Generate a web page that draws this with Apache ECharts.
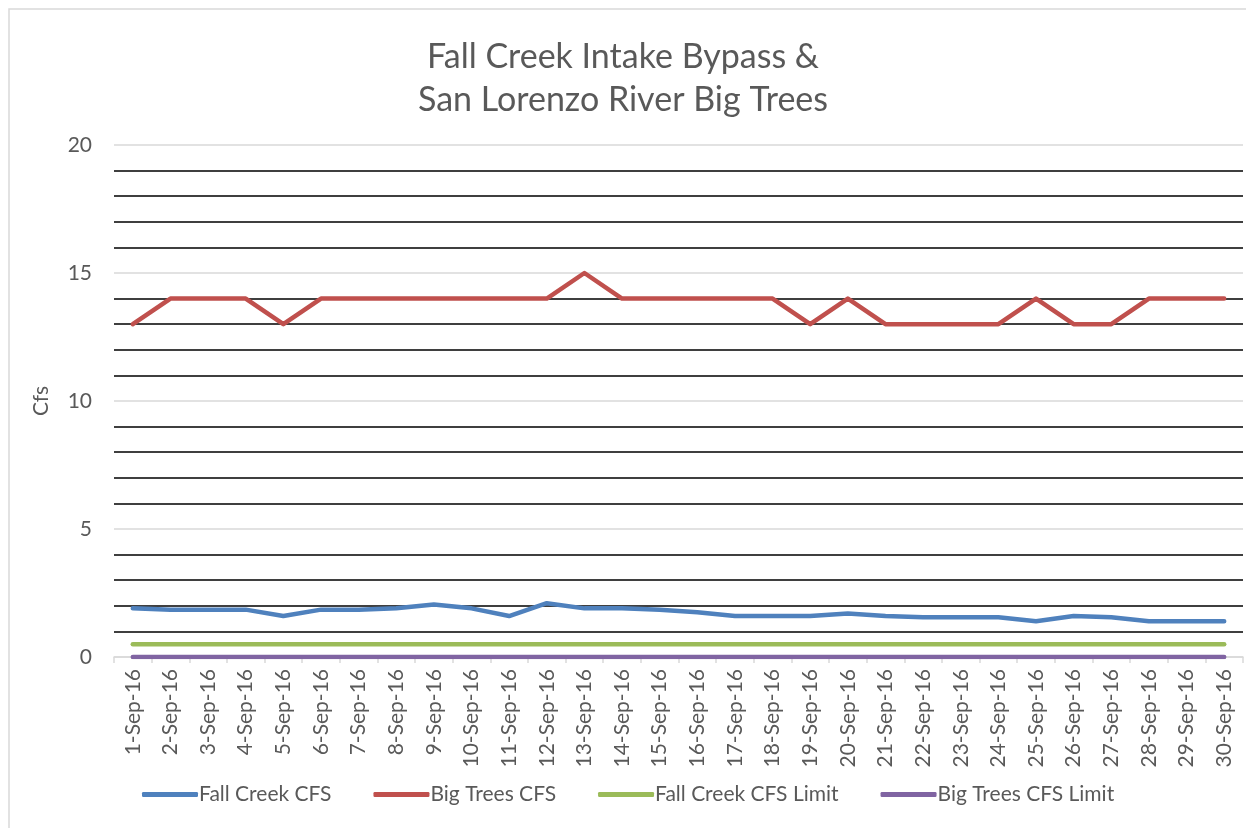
<!DOCTYPE html>
<html>
<head>
<meta charset="utf-8">
<title>Fall Creek Intake Bypass</title>
<script src="https://cdn.jsdelivr.net/npm/echarts@6/dist/echarts.min.js"></script>
<style>
  html, body { margin: 0; padding: 0; background: #fff; }
  #main { width: 1246px; height: 828px; }
</style>
</head>
<body>
<div id="main"></div>
<script>
var days = [];
for (var d = 1; d <= 30; d++) days.push(d + '-Sep-16');

var fallCreek = [1.9, 1.85, 1.85, 1.85, 1.6, 1.85, 1.85, 1.9, 2.05, 1.9,
                 1.6, 2.1, 1.9, 1.9, 1.85, 1.75, 1.6, 1.6, 1.6, 1.7,
                 1.6, 1.55, 1.55, 1.55, 1.4, 1.6, 1.55, 1.4, 1.4, 1.4];
var bigTrees = [13, 14, 14, 14, 13, 14, 14, 14, 14, 14,
                14, 14, 15, 14, 14, 14, 14, 14, 13, 14,
                13, 13, 13, 13, 14, 13, 13, 14, 14, 14];
var fallCreekLimit = new Array(30).fill(0.5);
var bigTreesLimit = new Array(30).fill(0);

var font = 'Lato, "Open Sans", sans-serif';
var grey = '#595959';

function line(name, data, color) {
  return {
    name: name,
    type: 'line',
    data: data,
    symbol: 'none',
    lineStyle: { color: color, width: 4.5, cap: 'round', join: 'round' },
    itemStyle: { color: color }
  };
}

var myChart = echarts.init(document.getElementById('main'));
myChart.setOption({
  backgroundColor: '#fff',
  animation: false,
  textStyle: { fontFamily: font },
  graphic: [{
    type: 'rect',
    shape: { x: 9, y: 9, width: 1240, height: 830 },
    style: { fill: 'none', stroke: '#d9d9d9', lineWidth: 1.5 },
    silent: true
  }],
  title: {
    text: 'Fall Creek Intake Bypass &\nSan Lorenzo River Big Trees',
    left: 'center',
    top: 31,
    textStyle: { color: grey, fontSize: 34, fontWeight: 'normal', lineHeight: 43, fontFamily: font }
  },
  legend: {
    bottom: 18,
    left: 137,
    icon: 'roundRect',
    itemWidth: 56,
    itemHeight: 5,
    itemGap: 42,
    textStyle: { color: grey, fontSize: 21, fontFamily: font, padding: [0, 0, 0, -4] },
    data: ['Fall Creek CFS', 'Big Trees CFS', 'Fall Creek CFS Limit', 'Big Trees CFS Limit']
  },
  grid: { left: 114, right: 3, top: 145, bottom: 171, containLabel: false },
  xAxis: {
    type: 'category',
    data: days,
    boundaryGap: true,
    axisLine: { lineStyle: { color: '#d9d9d9', width: 1.5 } },
    axisTick: { show: true, length: 6, lineStyle: { color: '#d9d9d9', width: 1.5 } },
    axisLabel: { rotate: 90, color: grey, fontSize: 21, margin: 12, interval: 0, fontFamily: font }
  },
  yAxis: {
    type: 'value',
    min: 0,
    max: 20,
    interval: 5,
    name: 'Cfs',
    nameLocation: 'middle',
    nameGap: 62,
    nameTextStyle: { color: grey, fontSize: 21, fontFamily: font },
    axisLine: { show: false },
    axisTick: { show: false },
    axisLabel: { color: grey, fontSize: 21, margin: 22, fontFamily: font },
    splitLine: { show: true, lineStyle: { color: '#d9d9d9', width: 1.5 } },
    minorTick: { show: false, splitNumber: 5 },
    minorSplitLine: { show: true, lineStyle: { color: '#000', width: 1.5 } }
  },
  series: [
    line('Fall Creek CFS', fallCreek, '#4f81bd'),
    line('Big Trees CFS', bigTrees, '#c0504d'),
    line('Fall Creek CFS Limit', fallCreekLimit, '#9bbb59'),
    line('Big Trees CFS Limit', bigTreesLimit, '#8064a2')
  ]
});
</script>
</body>
</html>
